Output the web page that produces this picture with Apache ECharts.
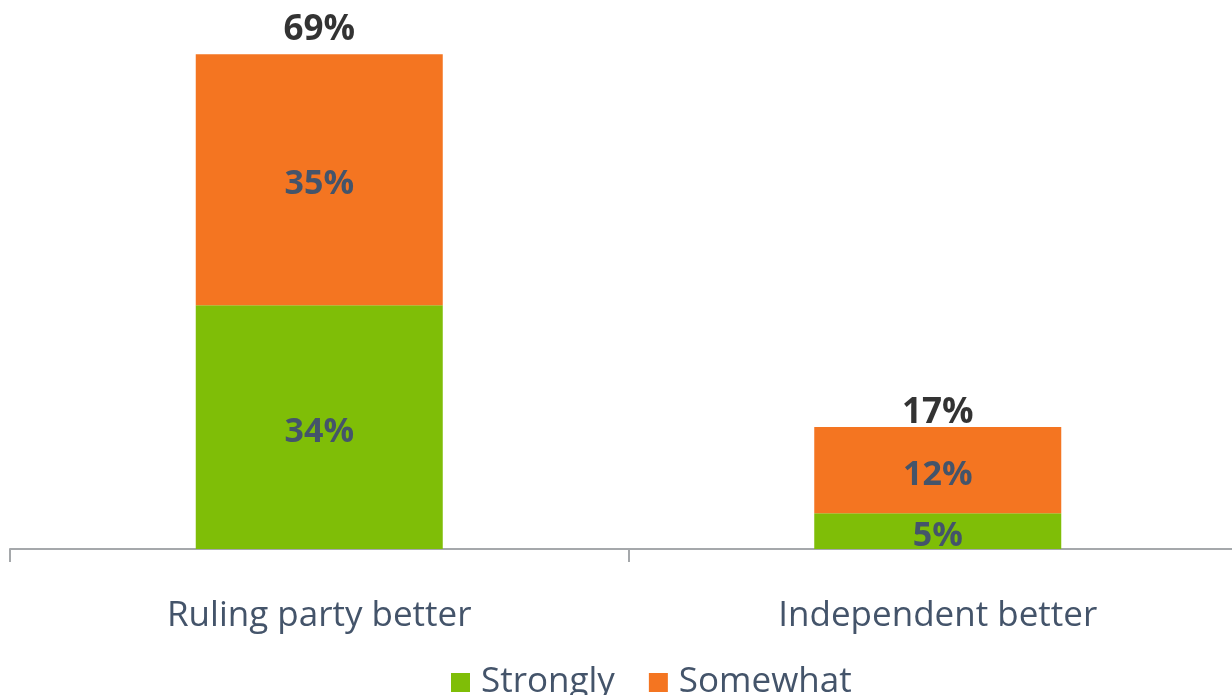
<!DOCTYPE html>
<html><head><meta charset="utf-8">
<script src="https://cdn.jsdelivr.net/npm/echarts@6/dist/echarts.min.js"></script>
<style>html,body{margin:0;padding:0;background:#fff}#c{width:1232px;height:695px}</style>
</head><body><div id="c"></div>
<script>
const categories = ["Ruling party better", "Independent better"];
const strongly = [34, 5];
const somewhat = [35, 12];
const totals = [69, 17];
const seriesNames = ["Strongly", "Somewhat"];

const FONT = "Open Sans";
const totalLabelShift = [-2, 8];
const chart = echarts.init(document.getElementById('c'));
chart.setOption({
  animation: false,
  textStyle: {fontFamily: FONT},
  grid: {left: 10, width: 1237, top: 47, bottom: 146, containLabel: false, outerBoundsMode: 'none'},
  legend: {
    data: seriesNames, bottom: -10, left: 446, itemWidth: 19, itemHeight: 19, itemGap: 34,
    icon: 'rect',
    textStyle: {fontSize: 35, color: '#44546a', fontFamily: FONT, padding: [0, 0, 0, 6]}
  },
  xAxis: {
    type: 'category', data: categories,
    axisLine: {lineStyle: {color: '#a5a8ab', width: 2}},
    axisTick: {show: true, length: 13, lineStyle: {color: '#a5a8ab', width: 2}},
    axisLabel: {fontSize: 35, color: '#44546a', margin: 50, fontFamily: FONT}
  },
  yAxis: {type: 'value', min: 0, max: 70, show: false, splitLine: {show: false}},
  series: [
    {name: seriesNames[0], type: 'bar', stack: 's', data: strongly, barWidth: 247,
     itemStyle: {color: '#7fbe07'},
     label: {show: true, position: 'inside', offset: [0, 5], formatter: '{c}%', fontSize: 34, fontWeight: 'bold', color: '#44546a', fontFamily: FONT}},
    {name: seriesNames[1], type: 'bar', stack: 's', data: somewhat, barWidth: 247,
     itemStyle: {color: '#f47521'},
     label: {show: true, position: 'inside', offset: [0, 5], formatter: '{c}%', fontSize: 34, fontWeight: 'bold', color: '#44546a', fontFamily: FONT}},
    {name: 'Total', type: 'scatter', symbolSize: 0.001, silent: true,
     data: totals.map((v, i) => ({value: v, label: {offset: [0, totalLabelShift[i]]}})),
     label: {show: true, position: 'top', distance: 5, formatter: '{c}%', fontSize: 35, fontWeight: 'bold', color: '#000', fontFamily: FONT}}
  ]
});
</script></body></html>
